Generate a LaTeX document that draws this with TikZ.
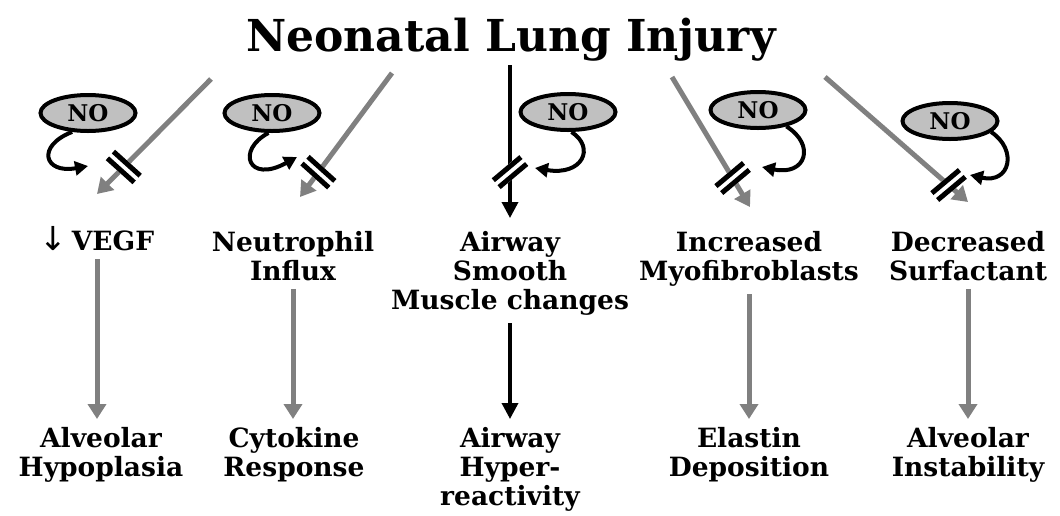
\documentclass[tikz,border=0pt]{standalone}
\usepackage{fontspec}
\setmainfont{DejaVu Serif}
\newfontfamily\arrfont{DejaVu Sans}
\usetikzlibrary{arrows.meta,shapes.geometric}
\definecolor{arrgray}{HTML}{808080}
\definecolor{nofill}{HTML}{C0C0C0}
\begin{document}
\begin{tikzpicture}[x=1pt,y=-1pt,
  lbl/.style={font=\fontsize{26.5}{29}\selectfont\bfseries, align=center, inner sep=0pt, anchor=north},
  ttl/.style={font=\fontsize{44}{48}\selectfont\bfseries, inner sep=0pt, anchor=base},
  noell/.style={ellipse, draw=black, line width=4pt, fill=nofill, minimum width=95pt, minimum height=36pt, inner sep=0pt, font=\fontsize{23}{24}\selectfont\bfseries},
  garr/.style={draw=arrgray, line width=5pt, -{Triangle[length=15pt,width=18pt]}},
  karr/.style={draw=black, line width=3.5pt, -{Triangle[length=16pt,width=16pt]}},
  curv/.style={draw=black, line width=4pt, -{Triangle[length=13pt,width=14pt]}},
  bars/.style={inner sep=0pt, outer sep=0pt, fill=white},
]
\useasboundingbox (0,0) rectangle (1060,515);
\node[ttl] (title) at (511,51) {Neonatal Lung Injury};

% labels
\node[lbl] (vegf) at (97,231) {\smash{\arrfont\mdseries\fontsize{33}{29}\selectfont ↓}\,VEGF};
\node[lbl] (neut) at (293,231) {Neutrophil\\Influx};
\node[lbl] (asm) at (510,231) {Airway\\Smooth\\Muscle changes};
\node[lbl] (myo) at (749,231) {Increased\\Myofibroblasts};
\node[lbl] (surf) at (968,231) {Decreased\\Surfactant};

\node[lbl] (hypo) at (101,427) {Alveolar\\Hypoplasia};
\node[lbl] (cyto) at (294,427) {Cytokine\\Response};
\node[lbl] (hyper) at (510,427) {Airway\\Hyper-\\reactivity};
\node[lbl] (elas) at (749,427) {Elastin\\Deposition};
\node[lbl] (inst) at (968,427) {Alveolar\\Instability};

% NO ellipses
\node[noell] (no1) at (88,113) {NO};
\node[noell] (no2) at (272,113) {NO};
\node[noell] (no3) at (568,112) {NO};
\node[noell] (no4) at (758,110) {NO};
\node[noell] (no5) at (950,121) {NO};

% arrow end points
\coordinate (s1) at (211,79);  \coordinate (e1) at (97,194);
\coordinate (s2) at (392,73);  \coordinate (e2) at (300,197);
\coordinate (s3) at (510,65);  \coordinate (e3) at (510,218);
\coordinate (s4) at (672,77);  \coordinate (e4) at (750,207);
\coordinate (s5) at (825,77);  \coordinate (e5) at (968,202);

\draw[garr] (s1) -- (e1) node[bars, rotate=48, pos=0.765] (b1) {\rule{5pt}{36pt}\hspace{4pt}\rule{5pt}{36pt}};
\draw[garr] (s2) -- (e2) node[bars, rotate=48, pos=0.80] (b2) {\rule{5pt}{36pt}\hspace{4pt}\rule{5pt}{36pt}};
\draw[karr] (s3) -- (e3) node[bars, rotate=-50, pos=0.70] (b3) {\rule{5pt}{36pt}\hspace{4pt}\rule{5pt}{36pt}};
\draw[garr] (s4) -- (e4) node[bars, rotate=-50, pos=0.777] (b4) {\rule{5pt}{36pt}\hspace{4pt}\rule{5pt}{36pt}};
\draw[garr] (s5) -- (e5) node[bars, rotate=-50, pos=0.864] (b5) {\rule{5pt}{36pt}\hspace{4pt}\rule{5pt}{36pt}};

% NO curved arrows
\coordinate (c1) at (88,166);
\coordinate (c2) at (297,157);
\coordinate (c3) at (535,168);
\coordinate (c4) at (762,167);
\coordinate (c5) at (970,175);
\draw[curv] (no1.-130) .. controls (36,146) and (44,174) .. (c1);
\draw[curv] (no2.-100) .. controls (236,150) and (248,184) .. (c2);
\draw[curv] (no3.-80) .. controls (596,148) and (582,176) .. (c3);
\draw[curv] (no4.-30) .. controls (816,145) and (806,176) .. (c4);
\draw[curv] (no5.-15) .. controls (1018,150) and (1010,184) .. (c5);

% lower arrows
\draw[garr, shorten <=8pt, shorten >=8pt] (vegf.south) -- (vegf.south |- hypo.north);
\draw[garr, shorten <=8pt, shorten >=8pt] (neut.south) -- (neut.south |- cyto.north);
\draw[karr, shorten <=8pt, shorten >=8pt] (asm.south) -- (asm.south |- hyper.north);
\draw[garr, shorten <=8pt, shorten >=8pt] (myo.south) -- (myo.south |- elas.north);
\draw[garr, shorten <=8pt, shorten >=8pt] (surf.south) -- (surf.south |- inst.north);
\end{tikzpicture}
\end{document}
